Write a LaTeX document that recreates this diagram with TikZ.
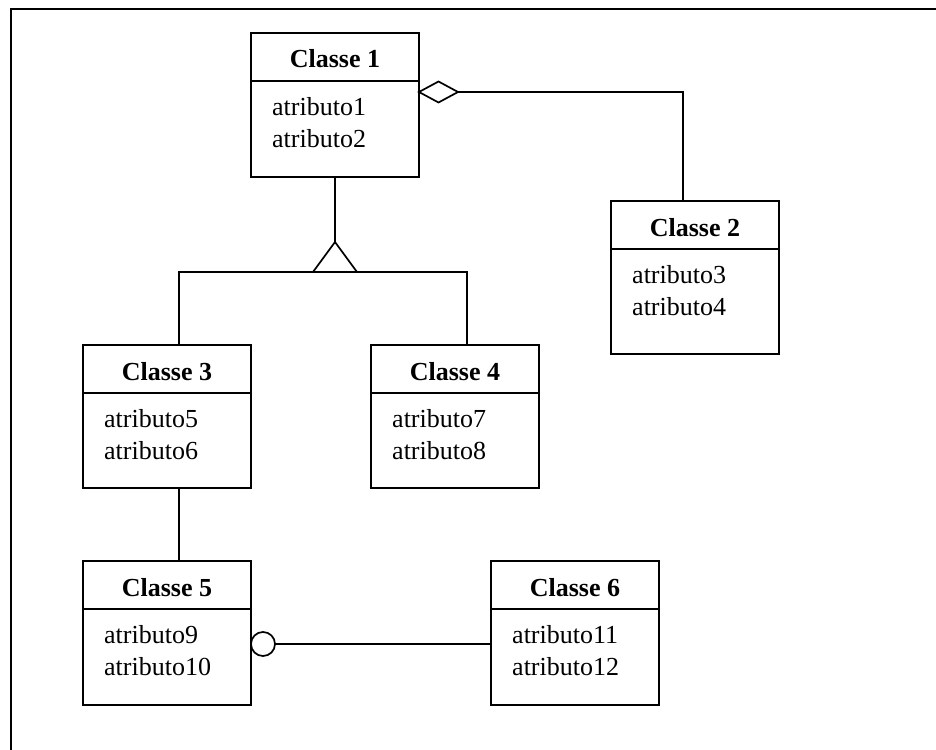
\documentclass[tikz,border=0pt]{standalone}
\usepackage{fontspec}
\setmainfont{Liberation Serif}
\newcommand\umlclass[7]{%
  \node[classbox, minimum height=#4] (#1) at (#2,#3) {};
  \node[ctitle] (#1-t) at ([yshift=-35pt]#1.north) {#5};
  \draw[boxline] ([yshift=-48pt]#1.north west) -- ([yshift=-48pt]#1.north east);
  \node[cattr] (#1-a) at ([xshift=21pt,yshift=-82pt]#1.north west) {#6};
  \node[cattr] (#1-b) at ([xshift=21pt,yshift=-114pt]#1.north west) {#7};
}
\begin{document}
\begin{tikzpicture}[x=1pt,y=-1pt,
  boxline/.style={line width=2pt},
  classbox/.style={draw, line width=2pt, anchor=north west, minimum width=168pt, inner sep=0pt, outer sep=0pt},
  ctitle/.style={font=\fontsize{26}{30}\selectfont\bfseries, anchor=base, inner sep=0pt},
  cattr/.style={font=\fontsize{26}{30}\selectfont, anchor=base west, inner sep=0pt},
  conn/.style={line width=1.7pt}]
\useasboundingbox (0,0) rectangle (936,749);
\draw[line width=2.2pt] (11,752) -- (11,9) -- (940,9);

\umlclass{c1}{251}{33}{144pt}{Classe 1}{atributo1}{atributo2}
\umlclass{c2}{611}{201}{153pt}{Classe 2}{atributo3}{atributo4}
\umlclass{c3}{83}{345}{143pt}{Classe 3}{atributo5}{atributo6}
\umlclass{c4}{371}{345}{143pt}{Classe 4}{atributo7}{atributo8}
\umlclass{c5}{83}{561}{144pt}{Classe 5}{atributo9}{atributo10}
\umlclass{c6}{491}{561}{144pt}{Classe 6}{atributo11}{atributo12}

% aggregation
\coordinate (dl) at ([yshift=-59pt]c1.north east);
\draw[conn] (dl) -- ++(19.5,-10.5) -- ++(19.5,10.5) coordinate (dr) -- ++(-19.5,10.5) -- cycle;
\draw[conn] (dr) -| ([xshift=-12pt]c2.north);

% generalization
\coordinate (apex) at ([yshift=-65pt]c1.south);
\draw[conn] (c1.south) -- (apex);
\draw[conn] (apex) -- ++(-22,30) -- ++(44,0) -- cycle;
\coordinate (base) at ([yshift=-30pt]apex);
\draw[conn] ([xshift=12pt]c3.north) |- (base) -| ([xshift=12pt]c4.north);

% association
\draw[conn] ([xshift=12pt]c3.south) -- ([xshift=12pt]c5.north);

% ring
\node[draw, circle, line width=1.7pt, minimum size=24pt, inner sep=0pt, outer sep=0pt, anchor=west] (ring) at ([yshift=-83pt]c5.north east) {};
\draw[conn] (ring.east) -- (ring.east -| c6.west);
\end{tikzpicture}
\end{document}
